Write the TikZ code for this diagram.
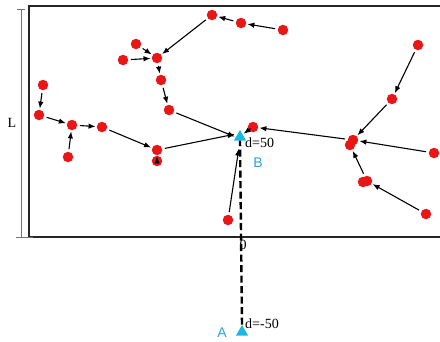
\documentclass[tikz,border=0pt]{standalone}
\usepackage{fontspec}
\setmainfont{Liberation Serif}
\newfontfamily\sansf{Liberation Sans}
\usetikzlibrary{arrows.meta,shapes.geometric}
\definecolor{dotred}{RGB}{232,22,22}
\definecolor{tricyan}{RGB}{25,185,228}
\definecolor{labblue}{RGB}{45,160,220}
\begin{document}
\begin{tikzpicture}[x=1pt,y=-1pt,
  dot/.style={circle,fill=dotred,draw=none,inner sep=0pt,minimum size=10.5pt},
  tri/.style={regular polygon,regular polygon sides=3,fill=tricyan,draw=none,inner sep=0pt,minimum size=14pt},
  arr/.style={-{Latex[length=7pt,width=5.5pt]},line width=1.1pt,shorten <=2.5pt,shorten >=1pt},
  frame/.style={line width=1.8pt,black!85},
  dim/.style={line width=0.8pt,black!55},
  lab/.style={font=\fontsize{14}{14}\selectfont,inner sep=0pt},
  slab/.style={font=\sansf\fontsize{14}{14}\selectfont,text=labblue,inner sep=0pt}]
\useasboundingbox (0,0) rectangle (440,341);
% frame
\draw[frame] (440,6) -- (29,6) -- (29,237) -- (440,237);
% dimension L
\draw[dim] (21,9) -- (21,237);
\draw[dim] (17,9) -- (25,9);
\draw[dim] (16,237) -- (33,237);
\node[lab] (L) at (12,123) {L};
% dots
\node[dot] (p1) at (212,15) {};
\node[dot] (p2) at (241,23) {};
\node[dot] (p3) at (283,30) {};
\node[dot] (p4) at (136,44) {};
\node[dot] (p5) at (123,60) {};
\node[dot] (p6) at (157,58) {};
\node[dot] (p7) at (161,80) {};
\node[dot] (p8) at (169,110) {};
\node[dot] (p9) at (43,85) {};
\node[dot] (p10) at (39,115) {};
\node[dot] (p11) at (72,125) {};
\node[dot] (p12) at (102,127) {};
\node[dot] (p13) at (68,157) {};
\node[dot] (p15) at (157,161) {};
\node[dot] (p14) at (157,150) {};
\node[dot] (p16) at (418,45) {};
\node[dot] (p17) at (392,99) {};
\node[dot] (p18) at (253,127) {};
\node[dot] (p19b) at (350,145) {};
\node[dot] (p19) at (353,140) {};
\node[dot] (p20) at (434,153) {};
\node[dot] (p21b) at (363,182) {};
\node[dot] (p21) at (367,181) {};
\node[dot] (p22) at (426,214) {};
\node[dot] (p23) at (228,220) {};
% triangles
\node[tri] (B) at (240,137) {};
\node[tri] (A) at (242,332) {};
% dashed line
\draw[line width=2.4pt,dash pattern=on 7pt off 3.5pt] (A.north) -- (B.south);
% labels
\node[lab,anchor=west] (dB) at (245,143) {d=50};
\node[lab,anchor=west] (dA) at (245,324) {d=-50};
\node[lab] (zero) at (243,245) {0};
\node[slab] (lB) at (258,163) {B};
\node[slab] (lA) at (222,333) {A};
% arrows
\draw[arr] (p3) -- (p2);
\draw[arr] (p2) -- (p1);
\draw[arr] (p1) -- (p6);
\draw[arr] (p4) -- (p6);
\draw[arr] (p5) -- (p6);
\draw[arr] (p6) -- (p7);
\draw[arr] (p7) -- (p8);
\draw[arr] (p8) -- (B.west);
\draw[arr] (p9) -- (p10);
\draw[arr] (p10) -- (p11);
\draw[arr] (p13) -- (p11);
\draw[arr] (p11) -- (p12);
\draw[arr] (p12) -- (p14);
\draw[arr] (p15) -- (p14);
\draw[arr] (p14) -- ([yshift=3pt]B.west);
\draw[arr] (p16) -- (p17);
\draw[arr] (p17) -- (p19);
\draw[arr] (p19) -- (p18);
\draw[arr] (p20) -- (p19);
\draw[arr] (p21) -- (p19b);
\draw[arr] (p22) -- (p21);
\draw[arr,shorten >=8pt] (p23) -- (B.south);
\draw[arr] (p18) -- (B.north east);
\end{tikzpicture}
\end{document}
